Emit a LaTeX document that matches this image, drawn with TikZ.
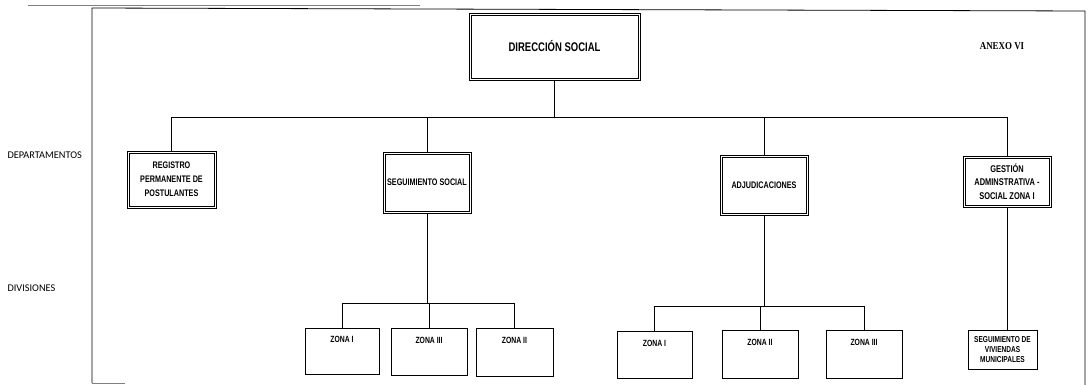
\documentclass[tikz,border=0pt]{standalone}
\usepackage{fontspec}
\newfontfamily\nar[FakeStretch=0.76]{Liberation Sans}
\newfontfamily\lbl{Carlito}
\newfontfamily\anx[FakeStretch=0.85]{Liberation Serif}
\begin{document}
\begin{tikzpicture}[x=1pt,y=-1pt,
  dbox/.style={draw, line width=0.8pt, inner sep=0pt, align=center, font=\nar\bfseries\fontsize{9.5}{14}\selectfont},
  inbox/.style={line width=0.5pt},
  zbox/.style={draw, line width=0.8pt, inner sep=0pt, align=center, font=\nar\bfseries\fontsize{9}{10}\selectfont},
  conn/.style={line width=0.8pt},
  side/.style={anchor=west, font=\lbl\fontsize{10.3}{12}\selectfont}]
\useasboundingbox (0,0) rectangle (1091,385);
% frame
\draw[gray, line width=0.6pt] (28,5) -- (420,5);
\draw[line width=0.8pt] (92,383) -- (92,8) -- (1085,11) -- (1085,385);
\draw[gray, line width=0.6pt] (92,383) -- (125,383);
% top
\node[dbox, minimum width=171pt, minimum height=67pt, font=\nar\bfseries\fontsize{12.5}{14}\selectfont] (ds) at (554.5,46.5) {DIRECCIÓN SOCIAL};
\node[font=\anx\bfseries\fontsize{10.5}{12}\selectfont] (anexo) at (1002,46) {ANEXO VI};
% departments
\node[dbox, minimum width=89pt, minimum height=57pt] (reg) at (171.5,179.5) {REGISTRO\\PERMANENTE DE\\POSTULANTES};
\node[dbox, minimum width=88pt, minimum height=61pt] (seg) at (427,182.5) {SEGUIMIENTO SOCIAL};
\node[dbox, minimum width=88pt, minimum height=60pt] (adj) at (764,185) {ADJUDICACIONES};
\node[dbox, minimum width=88pt, minimum height=51pt, font=\nar\bfseries\fontsize{9.8}{13.5}\selectfont] (gest) at (1007,181.5) {GESTIÓN\\ADMINSTRATIVA -\\SOCIAL ZONA I};
\foreach \n in {ds,reg,seg,adj,gest}
  \draw[inbox] ([shift={(2.6,2.6)}]\n.north west) rectangle ([shift={(-2.6,-2.6)}]\n.south east);
% divisions
\node[zbox, minimum width=74pt, minimum height=46pt] (z1) at (342,351) {ZONA I\\[13pt]};
\node[zbox, minimum width=76pt, minimum height=47pt] (z3) at (429,351.5) {ZONA III\\[13pt]};
\node[zbox, minimum width=77pt, minimum height=48pt] (z2) at (514.5,352) {ZONA II\\[13pt]};
\node[zbox, minimum width=75pt, minimum height=47pt] (a1) at (654.5,354.5) {ZONA I\\[13pt]};
\node[zbox, minimum width=76pt, minimum height=48pt] (a2) at (760,354) {ZONA II\\[13pt]};
\node[zbox, minimum width=76pt, minimum height=48pt] (a3) at (864,354) {ZONA III\\[13pt]};
\node[zbox, minimum width=69pt, minimum height=39pt, font=\nar\bfseries\fontsize{8.6}{9.6}\selectfont] (viv) at (1002.5,349.5) {SEGUIMIENTO DE\\VIVIENDAS\\MUNICIPALES};
% side labels
\node[side] (dep) at (4,155) {DEPARTAMENTOS};
\node[side] (div) at (4,288) {DIVISIONES};
% connectors
\coordinate (b1) at (554.5,117);
\draw[conn] (ds.south) -- (b1);
\draw[conn] (reg.north) |- (b1);
\draw[conn] (gest.north) |- (b1);
\draw[conn] (seg.north) -- (seg.north |- b1);
\draw[conn] (adj.north) -- (adj.north |- b1);
\coordinate (s1) at (427,303);
\draw[conn] (seg.south) -- (s1);
\draw[conn] (z1.north) |- (s1);
\draw[conn] (z2.north) |- (s1);
\draw[conn] (z3.north) -- (z3.north |- s1);
\coordinate (s2) at (764,306);
\draw[conn] (adj.south) -- (s2);
\draw[conn] (a1.north) |- (s2);
\draw[conn] (a3.north) |- (s2);
\draw[conn] (a2.north) -- (a2.north |- s2);
\draw[conn] (gest.south) -- (gest.south |- viv.north);
\end{tikzpicture}
\end{document}
